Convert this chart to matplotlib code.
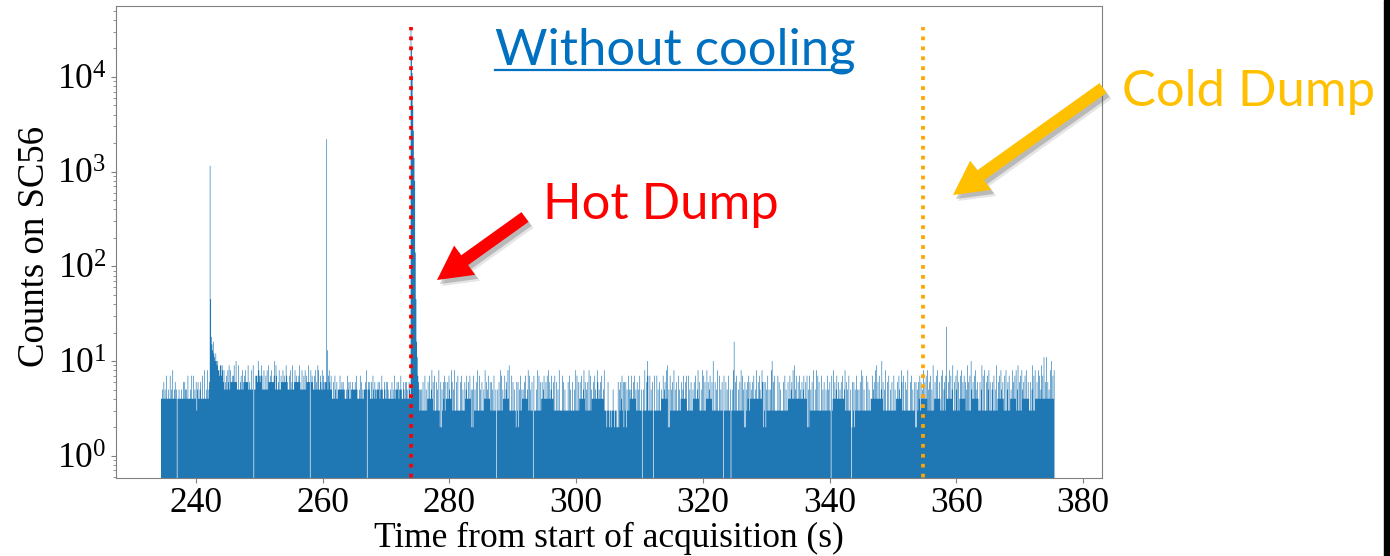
import numpy as np
import matplotlib.pyplot as plt
from matplotlib.patches import FancyArrow, Rectangle
from matplotlib.transforms import IdentityTransform

plt.rcParams['font.family'] = ['Liberation Serif', 'DejaVu Serif']
plt.rcParams['mathtext.fontset'] = 'stix'

# counts on SC56 per 0.1 s bin, one string per 10 s, starting at 234.5 s
t_start = 234.5
bin_width = 0.1
rows = [
    "4454645474 4544745484 4564504454 4454464654 5474445474 4745463564 4564474484 4548456999 9989989898 8879979868",
    "5657586958 6676796676 5595567585 6768666956 5585590557 7767876797 5585575859 6676866676 5975568557 6686766976",
    "5575856955 6867666796 5585575857 6696608676 5578565985 5765857656 6965786575 4464754645 5575565655 4454756464",
    "5565556575 4445746454 5565805656 4464754654 5565645575 4465464654 4454645474 5565645575 4465464654 4654999999",
    "9999976535 3536337353 4647445846 3733635383 2625364736 4464754486 3538336373 3363735336 4574464745 2527353638",
    "3373536335 4846457446 3635373350 3536383735 4474564849 3337363533 2636253735 4546474458 3735363073 3353837363",
    "4645744647 4846457446 3733635383 3337363533 3363735336 3353837363 4647445846 3536383735 4464754486 4546474458",
    "3332363233 2335323332 2625364736 2636253735 4574464745 3635373350 3538336373 3735363073 3373536335 4474564849",
    "2527353638 3536337353 4645744647 3373536335 4647445846 3353837363 4846457446 3733635383 3735363073 3635373350",
    "3538936373 3536383735 2625364736 4546474458 4464754486 2636253735 3538336373 3337363533 3363735336 4474564849",
    "4574464745 4645744647 2527353638 3353837363 3373536335 3735363073 4846457446 4546474458 3635373350 2636253735",
    "3536383735 3337363533 4474564849 4647445846 3538336373 3536337353 4464754486 3733635383 3363735336 2625364736",
    "4548464748 3563735393 4647484464 3738356373 4464847459 3363758363 4748464746 3593637385 4647485464 3363593738",
    "3363758363 3563735393 4647485464 3738356373 4548464748 3593637385 4647484464 3363593738 4464847459 4748464746",
    "4548464748",
]

# bins with 10 counts or more
peak_times = [242.2, 242.3, 242.4, 242.5, 242.6, 242.7, 242.8, 242.9, 243.0, 243.1, 243.2, 243.4,
              246.3, 249.8, 252.4, 260.6, 260.7,
              273.9, 274.0, 274.1, 274.2, 274.3, 274.4, 274.5, 274.6, 274.7, 274.8, 274.9,
              311.2, 321.6, 324.9, 330.9, 348.2,
              358.4, 362.3, 373.8, 374.2, 375.0]
peak_counts = [1150, 45, 18, 15, 13, 16, 12, 11, 10, 12, 10, 10,
               10, 10, 10, 2200, 13,
               33700, 20000, 11000, 5000, 2700, 1400, 800, 140, 45, 16, 11,
               10, 10, 16, 10, 10,
               23, 10, 11, 11, 10]

hot_dump = 273.9
cold_dump = 354.7

counts = np.array([int(c) for c in "".join(rows).replace(" ", "")], dtype=float)
for t, c in zip(peak_times, peak_counts):
    counts[int(round((t - t_start) / bin_width))] = c
edges = t_start + bin_width * np.arange(len(counts) + 1)

fig = plt.figure(figsize=(13.9, 5.56), dpi=100)
ax = fig.add_axes([116 / 1390, 78.5 / 556, 986 / 1390, 471.5 / 556])
ax.set_yscale('log')
ax.stairs(counts, edges, fill=True, baseline=0, color='#1f77b4')

ax.vlines(hot_dump, 0, counts.max(), colors='red', linestyles=':', linewidth=2.7)
ax.vlines(cold_dump, 0, counts.max(), colors='orange', linestyles=':', linewidth=2.7)

ax.set_xlim(227.4, 383.0)
ax.set_ylim(0.59, 56000)
ax.set_xticks([240, 260, 280, 300, 320, 340, 360, 380])
ax.tick_params(labelsize=25.5, color='#808080')
ax.tick_params(which='minor', color='#808080')
for s in ax.spines.values():
    s.set_color('#808080')

ax.set_xlabel("Time from start of acquisition (s)", fontsize=25.5, labelpad=1)
ax.set_ylabel("Counts on SC56", fontsize=26.5)
ax.yaxis.set_label_coords(-0.065, 0.49)

# slide annotations
ann_font = ['Lato', 'DejaVu Sans']
fig.text(495 / 1390, 1 - 65 / 556, "Without cooling", color='#0070C0', fontsize=36.5,
         family=ann_font, ha='left', va='baseline')
fig.add_artist(plt.Line2D([495 / 1390, 851 / 1390], [1 - 69.5 / 556] * 2, color='#0070C0', linewidth=1.6))
fig.text(543 / 1390, 1 - 219 / 556, "Hot Dump", color='#FF0000', fontsize=36.5,
         family=ann_font, ha='left', va='baseline')
fig.text(1122 / 1390, 1 - 106 / 556, "Cold Dump", color='#FFC000', fontsize=36.5,
         family=ann_font, ha='left', va='baseline')

px = IdentityTransform()
arrows = [((525, 339), (-88, -63), '#FF0000'), ((1103, 468), (-150, -107), '#FFC000')]
for (x, y), (dx, dy), col in arrows:
    for off, a in [((5, -6), 0.15), ((3, -4), 0.3)]:
        fig.add_artist(FancyArrow(x + off[0], y + off[1], dx, dy, width=12, head_width=36,
                                  head_length=34, length_includes_head=True,
                                  color='#555555', alpha=a, linewidth=0, transform=px))
    fig.add_artist(FancyArrow(x, y, dx, dy, width=12, head_width=36, head_length=34,
                              length_includes_head=True, color=col, linewidth=0, transform=px))

fig.add_artist(Rectangle((1384, 0), 6, 556, color='black', transform=px))

fig.savefig('out.png', dpi=100)
